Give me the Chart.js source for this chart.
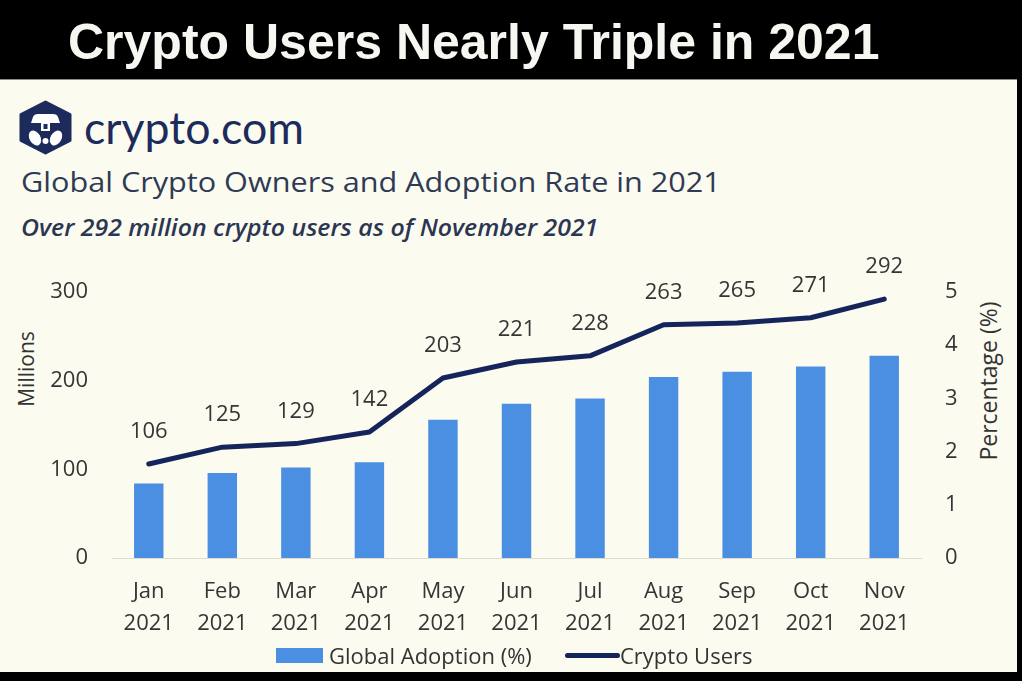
<!DOCTYPE html>
<html>
<head>
<meta charset="utf-8">
<script src="https://cdn.jsdelivr.net/npm/chart.js@4.4.0/dist/chart.umd.min.js"></script>
<style>
  html, body { margin: 0; padding: 0; background: #000; }
  body { width: 1022px; height: 681px; position: relative; overflow: hidden; font-family: "Open Sans", sans-serif; }
  #band { position: absolute; left: 0; top: 0; width: 1022px; height: 79px; background: #000; }
  #headline { position: absolute; left: 68px; top: 17px; font: bold 50px "Liberation Sans", Arial, sans-serif; line-height: 1; color: #f7f7f2; white-space: nowrap; }
  #panel { position: absolute; left: 0; top: 79px; width: 1017px; height: 592px; background: #fbfbf0; border-top: 1px solid #8a8a86; }
  .txt { position: absolute; white-space: nowrap; line-height: 1; transform-origin: 0 0; }
  #brand { left: 84px; top: 101px; font: 44px Lato, sans-serif; color: #1d2b5c; transform: scaleX(1.015); }
  #heading { left: 21px; top: 162px; font: 28px "Open Sans", sans-serif; color: #2f3a55; transform: scaleX(1.094); }
  #sub { left: 21px; top: 210px; font: italic 600 24px "Open Sans", sans-serif; color: #2b3652; transform: scaleX(1.035); }
  .axisTitle { position: absolute; font: 21px "Open Sans", sans-serif; color: #333; white-space: nowrap; line-height: 1; transform: translate(-50%, -50%) rotate(-90deg); }
  #chartBox { position: absolute; left: 0; top: 240px; width: 1022px; height: 431px; }
  .legend { position: absolute; top: 643px; font: 22px "Open Sans", sans-serif; color: #333; line-height: 24px; white-space: nowrap; }
  .swatch { position: absolute; }
</style>
</head>
<body>
<div id="band"></div>
<div id="headline">Crypto Users Nearly Triple in 2021</div>
<div id="panel"></div>

<svg style="position:absolute;left:0;top:0" width="100" height="170">
  <polygon points="45.5,102 70,114.5 70,140.5 45.5,153 21,140.5 21,114.5" fill="#1d2b5c" stroke="#1d2b5c" stroke-width="3" stroke-linejoin="round"/>
  <path d="M38 114 L53 114 Q57 114 58 117 L60 123 L31 123 L33 117 Q34 114 38 114 Z" fill="#fff"/>
  <rect x="41" y="123" width="9" height="8" fill="#fff"/>
  <rect x="43.5" y="124" width="4" height="5" fill="#1d2b5c"/>
  <ellipse cx="35" cy="138" rx="5.5" ry="8" transform="rotate(-30 35 138)" fill="#fff"/>
  <ellipse cx="56" cy="138" rx="5.5" ry="8" transform="rotate(30 56 138)" fill="#fff"/>
  <circle cx="45.5" cy="141" r="3" fill="#fff"/>
</svg>
<div class="txt" id="brand">crypto.com</div>
<div class="txt" id="heading">Global Crypto Owners and Adoption Rate in 2021</div>
<div class="txt" id="sub">Over 292 million crypto users as of November 2021</div>

<div class="axisTitle" style="left:26px; top:369px;">Millions</div>
<div class="axisTitle" style="left:988px; top:381px; font-size:23px;">Percentage (%)</div>

<div id="chartBox"><canvas id="usersChart"></canvas></div>

<div class="swatch" style="left:276px; top:648px; width:47px; height:15px; background:#4a8fe2;"></div>
<div class="legend" style="left:329px;">Global Adoption (%)</div>
<div class="swatch" style="left:565px; top:653px; width:55px; height:5px; border-radius:3px; background:#15245a;"></div>
<div class="legend" style="left:620px;">Crypto Users</div>

<script>
// Chart data
const months = [['Jan', '2021'], ['Feb', '2021'], ['Mar', '2021'], ['Apr', '2021'], ['May', '2021'], ['Jun', '2021'],
                ['Jul', '2021'], ['Aug', '2021'], ['Sep', '2021'], ['Oct', '2021'], ['Nov', '2021']];
const adoptionPct = [1.4, 1.6, 1.7, 1.8, 2.6, 2.9, 3.0, 3.4, 3.5, 3.6, 3.8];
const cryptoUsers = [106, 125, 129, 142, 203, 221, 228, 263, 265, 271, 292];
const millionsTicks = [0, 100, 200, 300];
const percentTicks = [0, 1, 2, 3, 4, 5];

const tickFont = { family: 'Open Sans', size: 22 };
const tickColor = '#353535';

// value labels above the line points
const pointLabels = {
    id: 'pointLabels',
    afterDatasetsDraw(chart) {
        const ctx = chart.ctx;
        const meta = chart.getDatasetMeta(1);
        ctx.save();
        ctx.font = '22px "Open Sans"';
        ctx.fillStyle = tickColor;
        ctx.textAlign = 'center';
        ctx.textBaseline = 'middle';
        meta.data.forEach(function(pt, i) {
            ctx.fillText(cryptoUsers[i], pt.x, pt.y - 32);
        });
        ctx.restore();
    }
};

new Chart(document.getElementById('usersChart'), {
    type: 'bar',
    data: {
        labels: months,
        datasets: [
            {
                label: 'Global Adoption (%)',
                data: adoptionPct,
                yAxisID: 'pct',
                backgroundColor: '#4a8fe2',
                barPercentage: 0.4,
                categoryPercentage: 1,
                order: 1
            },
            {
                type: 'line',
                label: 'Crypto Users',
                data: cryptoUsers,
                yAxisID: 'users',
                borderColor: '#15245a',
                borderWidth: 5,
                pointRadius: 0,
                tension: 0,
                borderJoinStyle: 'round',
                borderCapStyle: 'round',
                order: 0
            }
        ]
    },
    options: {
        responsive: true,
        maintainAspectRatio: false,
        animation: false,
        layout: { padding: { top: 52, bottom: 0, left: 0, right: 0 } },
        plugins: {
            legend: { display: false },
            tooltip: { enabled: false }
        },
        scales: {
            x: {
                grid: { display: false, drawTicks: false },
                border: { display: true, color: '#dcdcd0', width: 1 },
                ticks: { font: { family: 'Open Sans', size: 22, lineHeight: 1.45 }, color: tickColor, padding: 18, maxRotation: 0, autoSkip: false },
                afterFit: function(scale) { scale.height = 113; }
            },
            users: {
                position: 'left',
                min: 0,
                max: 300,
                grid: { display: false, drawTicks: false },
                border: { display: false },
                ticks: { font: tickFont, color: tickColor, padding: 24, stepSize: 100 },
                afterBuildTicks: function(scale) { scale.ticks = millionsTicks.map(v => ({ value: v })); },
                afterFit: function(scale) { scale.width = 112; }
            },
            pct: {
                position: 'right',
                min: 0,
                max: 5,
                grid: { display: false, drawTicks: false },
                border: { display: false },
                ticks: { font: tickFont, color: tickColor, padding: 24, stepSize: 1 },
                afterBuildTicks: function(scale) { scale.ticks = percentTicks.map(v => ({ value: v })); },
                afterFit: function(scale) { scale.width = 101; }
            }
        }
    },
    plugins: [pointLabels]
});
</script>
</body>
</html>
